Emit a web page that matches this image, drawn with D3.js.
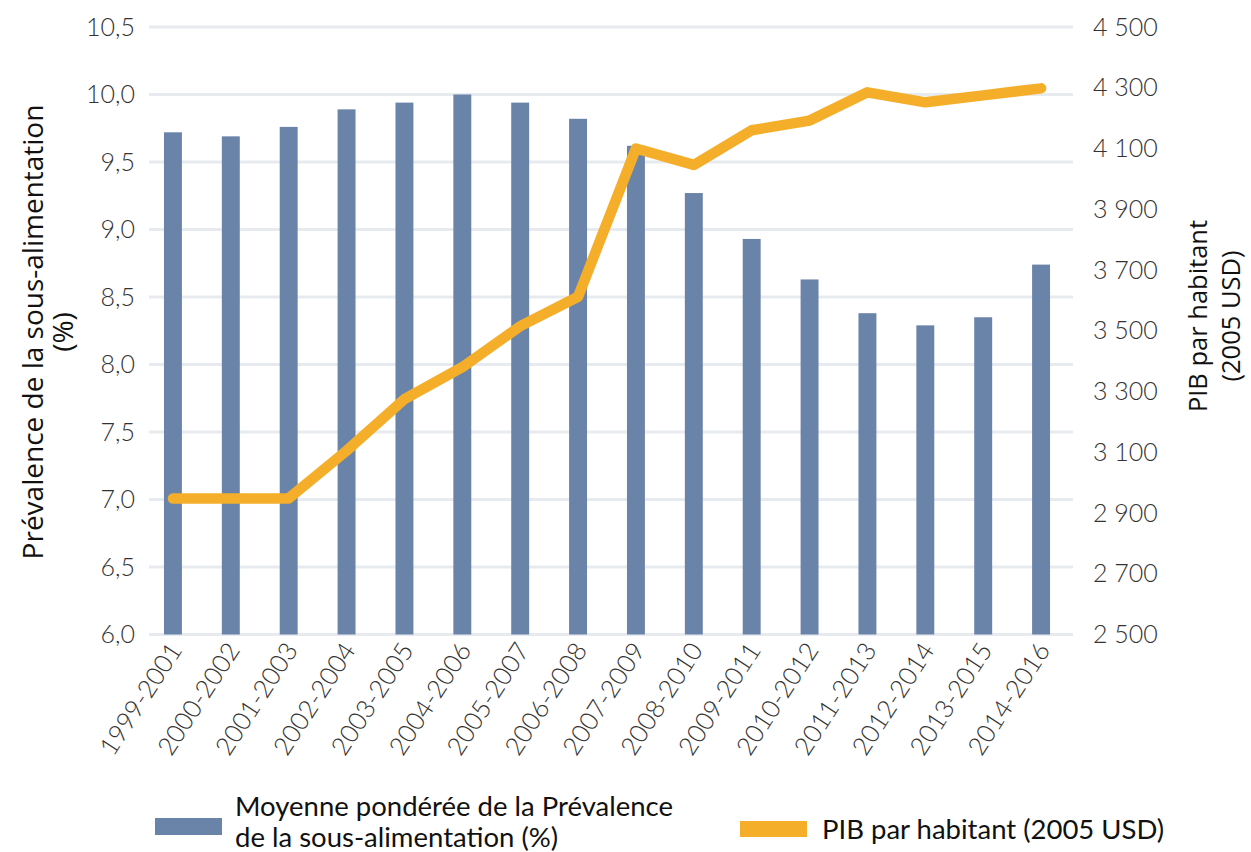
<!DOCTYPE html>
<html>
<head>
<meta charset="utf-8">
<script src="https://cdn.jsdelivr.net/npm/d3@7"></script>
<style>
  body { margin: 0; background: #fff; }
  svg { display: block; }
  .tick-label { font-family: Lato, sans-serif; font-weight: 300; font-size: 25px; fill: #333; }
  .x-label { font-family: Lato, sans-serif; font-weight: 300; font-size: 25.5px; fill: #333; }
  .axis-title { font-family: "Open Sans", sans-serif; fill: #111; }
  .legend-text { font-family: Lato, sans-serif; font-size: 27.5px; fill: #111; }
</style>
</head>
<body>
<div id="chart"></div>
<script>
// data
const categories = ["1999-2001", "2000-2002", "2001-2003", "2002-2004", "2003-2005", "2004-2006",
    "2005-2007", "2006-2008", "2007-2009", "2008-2010", "2009-2011", "2010-2012",
    "2011-2013", "2012-2014", "2013-2015", "2014-2016"];
const prevalence = [9.72, 9.69, 9.76, 9.89, 9.94, 10.0, 9.94, 9.82, 9.62, 9.27, 8.93, 8.63, 8.38, 8.29, 8.35, 8.74];
const gdp = [2948, 2948, 2948, 3105, 3275, 3380, 3515, 3612, 4100, 4046, 4160, 4192, 4285, 4252, 4275, 4298];
const leftTicks = [6.0, 6.5, 7.0, 7.5, 8.0, 8.5, 9.0, 9.5, 10.0, 10.5];
const rightTicks = [2500, 2700, 2900, 3100, 3300, 3500, 3700, 3900, 4100, 4300, 4500];
const leftTitle = ["Prévalence de la sous-alimentation", "(%)"];
const rightTitle = ["PIB par habitant", "(2005 USD)"];
const legendBar = ["Moyenne pondérée de la Prévalence", "de la sous-alimentation (%)"];
const legendLine = "PIB par habitant (2005 USD)";

const width = 1251, height = 852;
const barColor = "#6a83a8", lineColor = "#f5ae2a", gridColor = "#e7ebef";

const svg = d3.select("#chart").append("svg")
    .attr("width", width)
    .attr("height", height);

// scales
const x = d3.scaleBand()
    .domain(categories)
    .range([144, 1070])
    .paddingInner(0.69)
    .paddingOuter(0.345);

const yLeft = d3.scaleLinear().domain([6.0, 10.5]).range([634.5, 27]);
const yRight = d3.scaleLinear().domain([2500, 4500]).range([634.5, 27]);

const fmtLeft = d => d.toFixed(1).replace(".", ",");
const fmtRight = d => d3.format(",")(d).replace(",", " ");

// gridlines
svg.append("g")
    .selectAll("line")
    .data(leftTicks)
    .join("line")
    .attr("x1", 149)
    .attr("x2", 1073)
    .attr("y1", d => yLeft(d))
    .attr("y2", d => yLeft(d))
    .attr("stroke", gridColor)
    .attr("stroke-width", 3);

// left axis
const leftAxis = svg.append("g")
    .attr("transform", "translate(149,0)")
    .call(d3.axisLeft(yLeft).tickValues(leftTicks).tickFormat(fmtLeft).tickSize(0).tickPadding(14));
leftAxis.select(".domain").remove();
leftAxis.selectAll("text").attr("class", "tick-label").attr("fill", null);

// right axis
const rightAxis = svg.append("g")
    .attr("transform", "translate(1073,0)")
    .call(d3.axisRight(yRight).tickValues(rightTicks).tickFormat(fmtRight).tickSize(0).tickPadding(20));
rightAxis.select(".domain").remove();
rightAxis.selectAll("text").attr("class", "tick-label").attr("fill", null);

// bars
svg.append("g")
    .selectAll("rect")
    .data(categories)
    .join("rect")
    .attr("x", d => x(d))
    .attr("width", x.bandwidth())
    .attr("y", (d, i) => yLeft(prevalence[i]))
    .attr("height", (d, i) => yLeft(6.0) - yLeft(prevalence[i]))
    .attr("fill", barColor);

// line
const line = d3.line()
    .x((d, i) => x(categories[i]) + x.bandwidth() / 2)
    .y(d => yRight(d));

svg.append("path")
    .datum(gdp)
    .attr("d", line)
    .attr("fill", "none")
    .attr("stroke", lineColor)
    .attr("stroke-width", 10.5)
    .attr("stroke-linecap", "round")
    .attr("stroke-linejoin", "round");

// x labels
svg.append("g")
    .selectAll("text")
    .data(categories)
    .join("text")
    .attr("class", "x-label")
    .attr("text-anchor", "end")
    .attr("transform", d => `translate(${x(d) + x.bandwidth() / 2 + 10},${650}) rotate(-57)`)
    .text(d => d);

// axis titles
svg.append("text")
    .attr("class", "axis-title")
    .attr("font-size", 28)
    .attr("text-anchor", "middle")
    .attr("transform", "translate(33,332) rotate(-90)")
    .selectAll("tspan")
    .data(leftTitle)
    .join("tspan")
    .attr("x", 0)
    .attr("y", (d, i) => i * 30 + 10)
    .text(d => d);

svg.append("text")
    .attr("class", "axis-title")
    .attr("font-size", 25.5)
    .attr("text-anchor", "middle")
    .attr("transform", "translate(1198,316) rotate(-90)")
    .selectAll("tspan")
    .data(rightTitle)
    .join("tspan")
    .attr("x", 0)
    .attr("y", (d, i) => i * 33 + 9)
    .text(d => d);

// legend
svg.append("rect")
    .attr("x", 155).attr("y", 818)
    .attr("width", 67).attr("height", 17)
    .attr("fill", barColor);

svg.append("text")
    .attr("class", "legend-text")
    .selectAll("tspan")
    .data(legendBar)
    .join("tspan")
    .attr("x", 235)
    .attr("y", (d, i) => 816 + i * 31)
    .text(d => d);

svg.append("rect")
    .attr("x", 740).attr("y", 821)
    .attr("width", 67).attr("height", 16)
    .attr("fill", lineColor);

svg.append("text")
    .attr("class", "legend-text")
    .attr("x", 822)
    .attr("y", 839)
    .text(legendLine);
</script>
</body>
</html>
